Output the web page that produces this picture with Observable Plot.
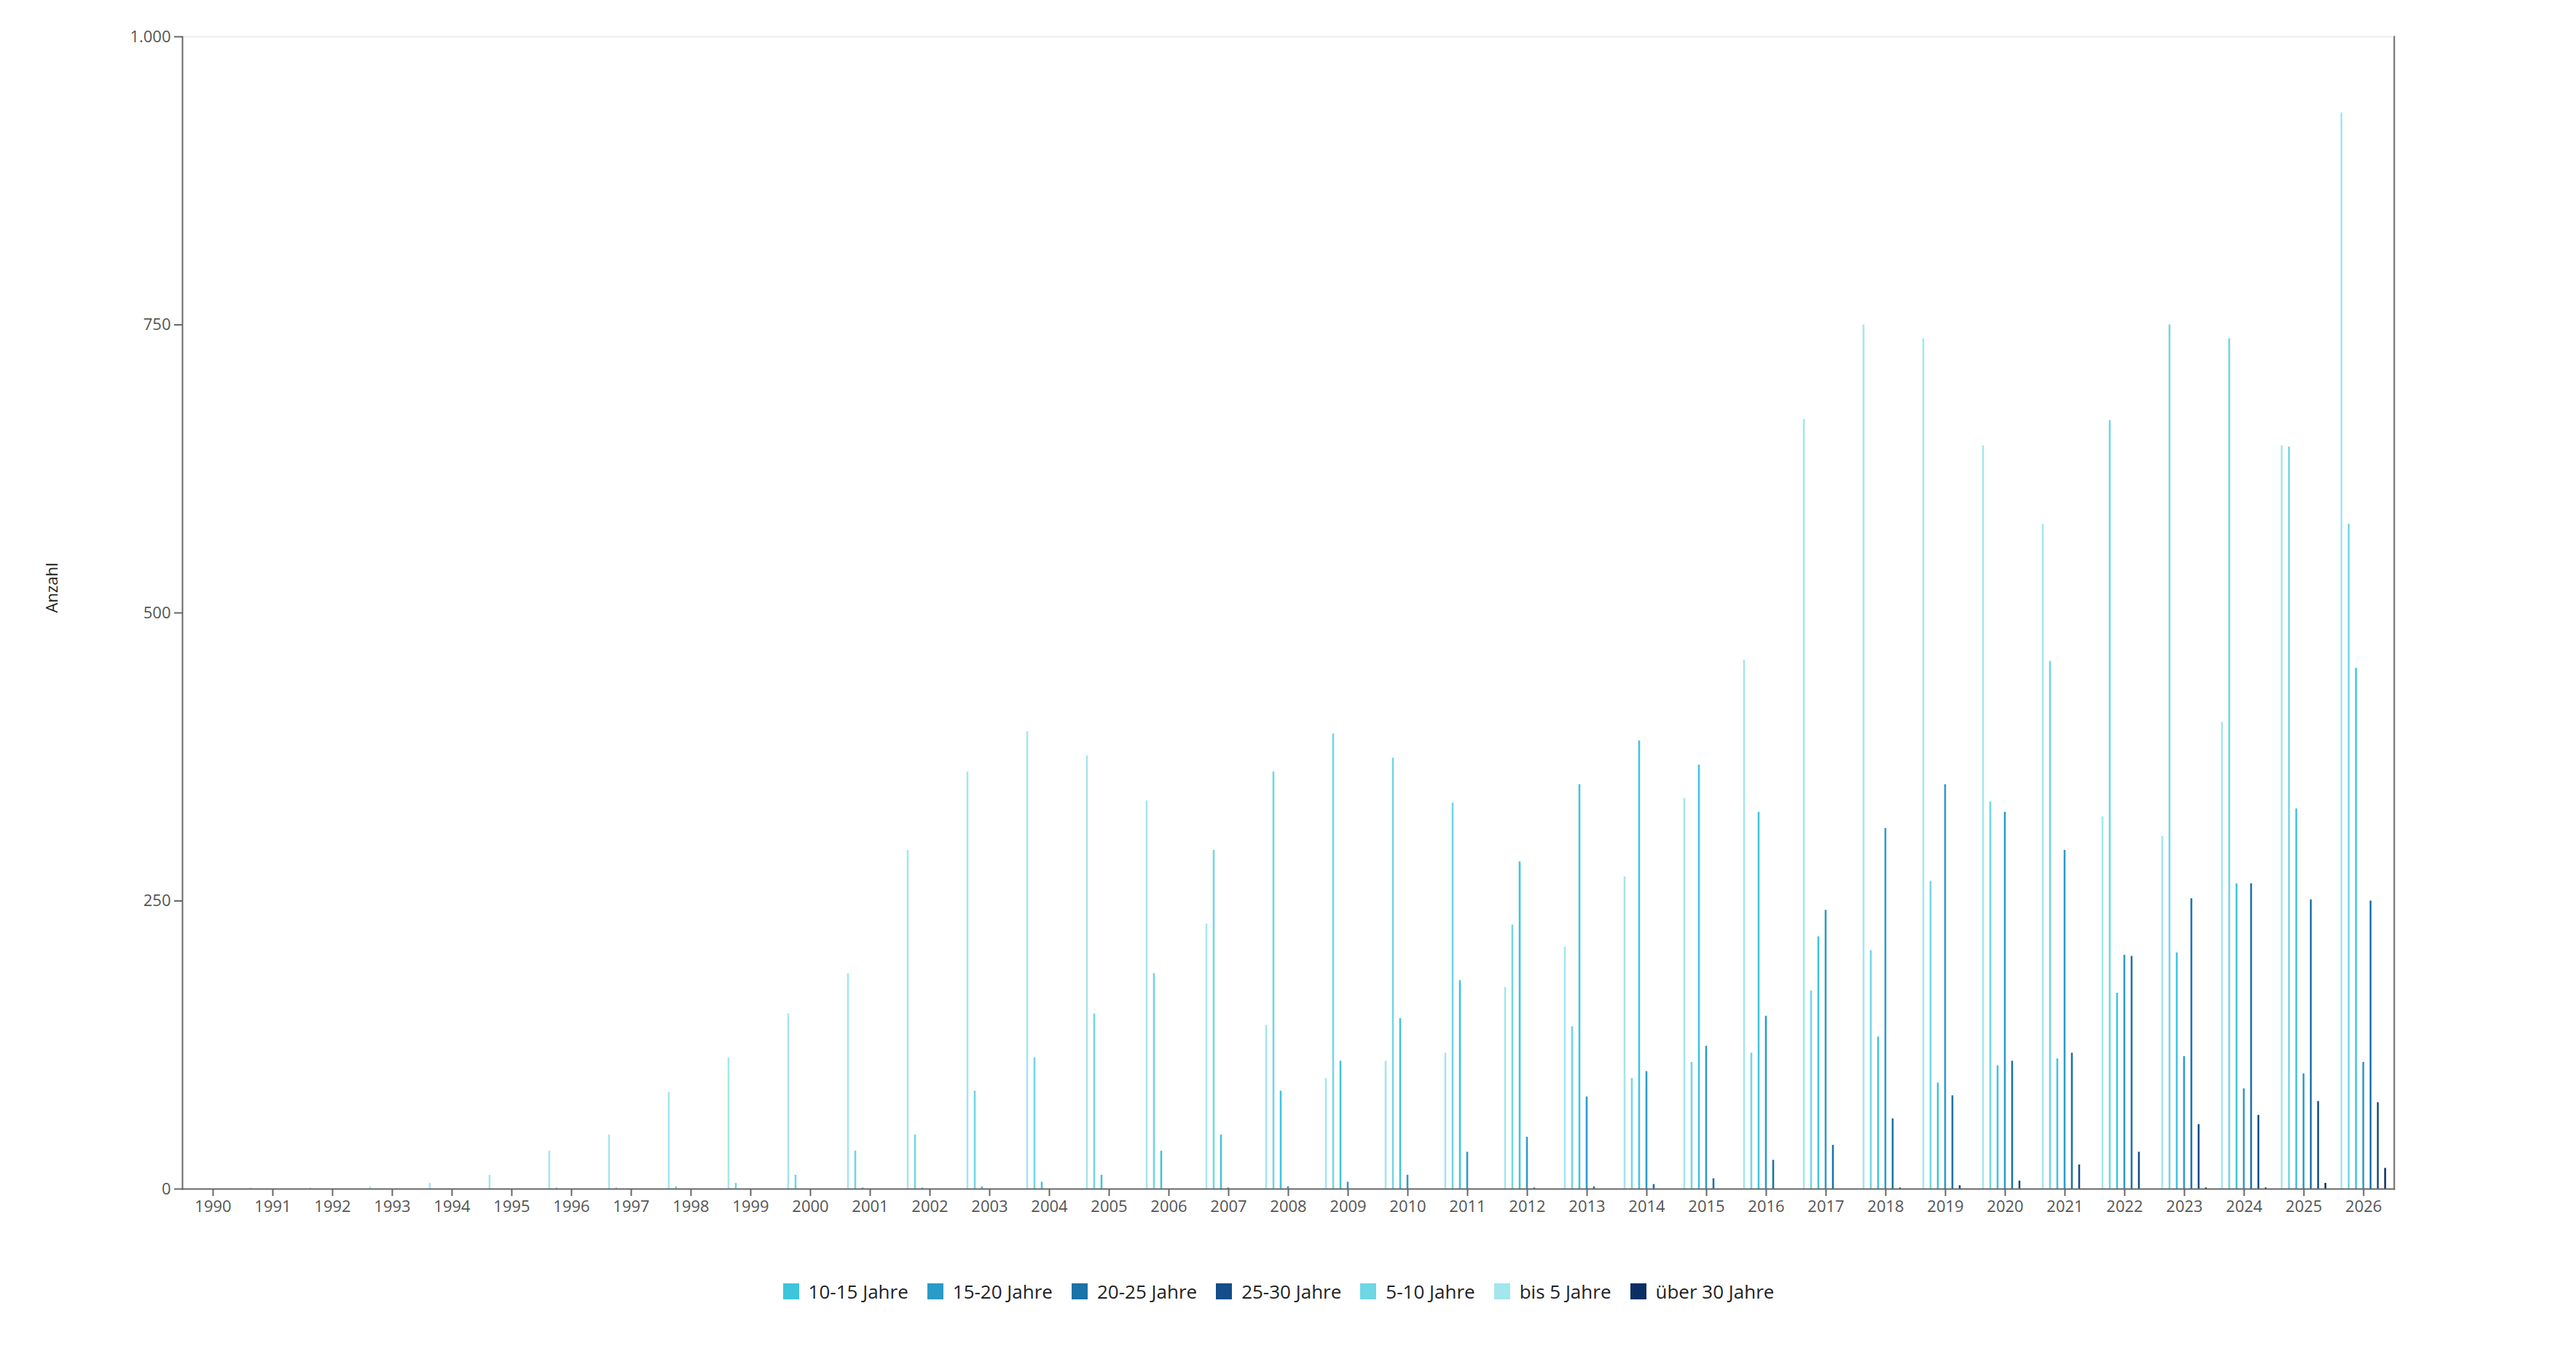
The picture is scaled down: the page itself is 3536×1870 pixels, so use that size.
<!DOCTYPE html>
<html><head><meta charset="utf-8">
<script src="https://cdn.jsdelivr.net/npm/d3@7"></script>
<script src="https://cdn.jsdelivr.net/npm/@observablehq/plot@0.6"></script>
<style>
body{margin:0;background:#fff;font-family:"Open Sans",sans-serif;}
#legend{display:flex;justify-content:center;margin-top:45px;}
</style></head><body>
<div id="chart"></div>
<div id="legend"></div>
<script>
const years = [1990,1991,1992,1993,1994,1995,1996,1997,1998,1999,2000,2001,2002,2003,2004,2005,2006,2007,2008,2009,2010,2011,2012,2013,2014,2015,2016,2017,2018,2019,2020,2021,2022,2023,2024,2025,2026];
const seriesOrder = ["bis 5 Jahre","5-10 Jahre","10-15 Jahre","15-20 Jahre","20-25 Jahre","25-30 Jahre","über 30 Jahre"];
const legendOrder = ["10-15 Jahre","15-20 Jahre","20-25 Jahre","25-30 Jahre","5-10 Jahre","bis 5 Jahre","über 30 Jahre"];
const legendColors = ["#3ec5dc","#2a9bc9","#1b72a8","#134d8a","#6fd6e3","#a3e6ee","#0c2f63"];
const yTicks = [0,250,500,750,1000];

const bis5   = [0,1,1,2,5,12,33,47,84,114,152,187,294,362,397,376,337,230,142,96,111,118,175,210,271,339,459,668,750,738,645,577,323,306,405,645,934];
const j5_10  = [0,0,0,0,0,0,1,1,2,5,12,33,47,85,114,152,187,294,362,395,374,335,229,141,96,110,118,172,207,267,336,458,667,750,738,644,577];
const j10_15 = [0,0,0,0,0,0,0,0,0,0,0,1,1,2,6,12,33,47,85,111,148,181,284,351,389,368,327,219,132,92,107,113,170,205,265,330,452];
const j15_20 = [0,0,0,0,0,0,0,0,0,0,0,0,0,0,0,0,0,1,2,6,12,32,45,80,102,124,150,242,313,351,327,294,203,115,87,100,110];
const j20_25 = [0,0,0,0,0,0,0,0,0,0,0,0,0,0,0,0,0,0,0,0,0,0,1,2,4,9,25,38,61,81,111,118,202,252,265,251,250];
const j25_30 = [0,0,0,0,0,0,0,0,0,0,0,0,0,0,0,0,0,0,0,0,0,0,0,0,0,0,0,0,1,3,7,21,32,56,64,76,75];
const ueber30= [0,0,0,0,0,0,0,0,0,0,0,0,0,0,0,0,0,0,0,0,0,0,0,0,0,0,0,0,0,0,0,0,0,1,1,5,18];

const valuesBySeries = {"bis 5 Jahre": bis5, "5-10 Jahre": j5_10, "10-15 Jahre": j10_15, "15-20 Jahre": j15_20, "20-25 Jahre": j20_25, "25-30 Jahre": j25_30, "über 30 Jahre": ueber30};
const rows = seriesOrder.flatMap(s => years.map((y, i) => ({year: String(y), series: s, value: valuesBySeries[s][i]})));

const W = 3536, H = 1710, mL = 250, mR = 250, mT = 50, mB = 78;
const band = (W - mL - mR) / years.length;
const barW = 2.6, sub = 10;
const de = d3.formatLocale({decimal: ",", thousands: ".", grouping: [3], currency: ["", "€"]});
const fmt = de.format(",d");
const inset = (band - barW) / 2;

const barMarks = seriesOrder.map((s, k) => Plot.barY(rows.filter(d => d.series === s), {
  x: "year", y: "value", fill: "series", dx: (k - 3) * sub, insetLeft: inset, insetRight: inset
}));

const plot = Plot.plot({
  width: W, height: H, marginLeft: mL, marginRight: mR, marginTop: mT, marginBottom: mB,
  style: {fontFamily: "'Open Sans', sans-serif", fontSize: "21px", color: "#595959", background: "#fff", overflow: "visible"},
  x: {type: "band", domain: years.map(String), padding: 0, axis: null},
  y: {domain: [0, 1000], axis: null},
  color: {domain: legendOrder, range: legendColors},
  marks: [
    Plot.ruleY([1000], {stroke: "#eeeeee", strokeWidth: 2}),
    ...barMarks,
    Plot.axisX({tickSize: 10, tickPadding: 6, stroke: "#666", strokeWidth: 2, fill: "#555", fontSize: 22, label: null}),
    Plot.axisY({ticks: yTicks, tickFormat: fmt, tickSize: 11, tickPadding: 5, stroke: "#666", strokeWidth: 2, fill: "#555", fontSize: 22, label: null}),
    Plot.frame({anchor: "left", stroke: "#666", strokeWidth: 2}),
    Plot.frame({anchor: "bottom", stroke: "#666", strokeWidth: 2}),
    Plot.frame({anchor: "right", stroke: "#666", strokeWidth: 2}),
    Plot.text(["Anzahl"], {text: d => d, frameAnchor: "left", dx: -179, dy: 0, rotate: -90, fill: "#222", fontSize: 22})
  ]
});
document.getElementById("chart").appendChild(plot);

const leg = Plot.legend({
  color: {domain: legendOrder, range: legendColors},
  legend: "swatches", swatchSize: 22,
  style: {fontSize: "26px", fontFamily: "'Open Sans', sans-serif", color: "#222"}
});
document.getElementById("legend").appendChild(leg);
</script>
</body></html>
